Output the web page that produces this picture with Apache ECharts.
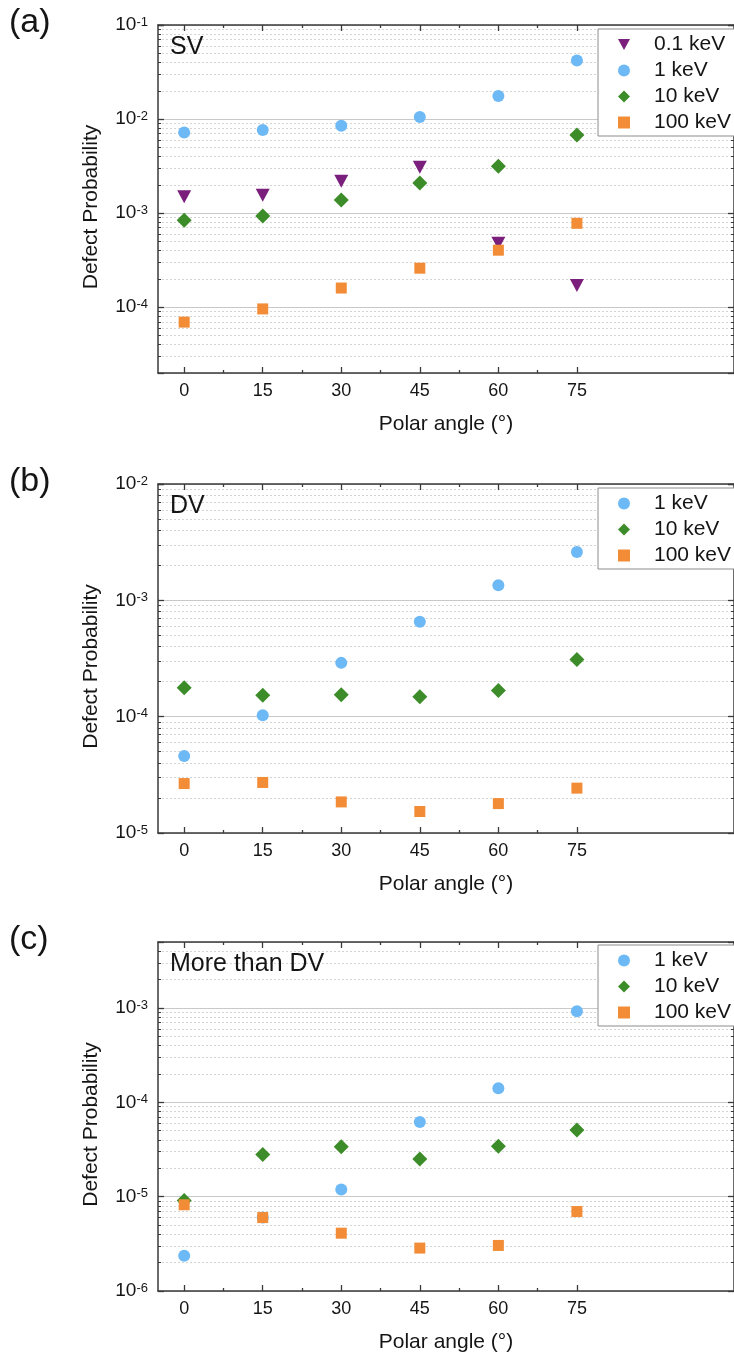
<!DOCTYPE html>
<html><head><meta charset="utf-8">
<script src="https://cdn.jsdelivr.net/npm/echarts@6/dist/echarts.min.js"></script>
<style>html,body{margin:0;padding:0;background:#fff}#c{width:734px;height:1359px}</style>
</head><body><div id="c"></div>
<script>
// ---------- data ----------
const angles = [0, 15, 30, 45, 60, 75];
const xTickLabels = [0, 15, 30, 45, 60, 75];
const xMinorTicks = [7.5, 22.5, 37.5, 52.5, 67.5];

// (a) SV
const sv_0p1keV = [1.49e-3, 1.55e-3, 2.18e-3, 3.08e-3, 4.8e-4, 1.7e-4];
const sv_1keV   = [7.2e-3, 7.65e-3, 8.5e-3, 1.05e-2, 1.76e-2, 4.2e-2];
const sv_10keV  = [8.4e-4, 9.35e-4, 1.38e-3, 2.09e-3, 3.16e-3, 6.78e-3];
const sv_100keV = [6.95e-5, 9.6e-5, 1.6e-4, 2.6e-4, 4.04e-4, 7.8e-4];

// (b) DV
const dv_1keV   = [4.6e-5, 1.03e-4, 2.9e-4, 6.55e-4, 1.35e-3, 2.6e-3];
const dv_10keV  = [1.77e-4, 1.53e-4, 1.54e-4, 1.48e-4, 1.68e-4, 3.1e-4];
const dv_100keV = [2.66e-5, 2.72e-5, 1.85e-5, 1.53e-5, 1.79e-5, 2.43e-5];

// (c) More than DV
const mdv_1keV   = [2.36e-6, 6.0e-6, 1.19e-5, 6.2e-5, 1.41e-4, 9.2e-4];
const mdv_10keV  = [9.1e-6, 2.8e-5, 3.37e-5, 2.5e-5, 3.43e-5, 5.1e-5];
const mdv_100keV = [8.2e-6, 6.0e-6, 4.1e-6, 2.85e-6, 3.04e-6, 6.95e-6];

const yRangeA = [2e-5, 1e-1];
const yRangeB = [1e-5, 1e-2];
const yRangeC = [1e-6, 5e-3];

// ---------- styling ----------
const FONT = 'Liberation Sans, Arial, sans-serif';
const TXT = '#151515';
const AXC = '#3a3a3a';
const styles = {
  '0.1 keV': {symbol: 'path://M0,0 L14,0 L7,13 Z', symbolSize: [14, 13], color: '#7A1F7C'},
  '1 keV':   {symbol: 'circle', symbolSize: 12, color: '#6DB9F6'},
  '10 keV':  {symbol: 'diamond', symbolSize: 15, color: '#3C8C2A'},
  '100 keV': {symbol: 'rect', symbolSize: 11, color: '#F28C36'}
};

const panels = [
  {tag: '(a)', title: 'SV', top: 25, height: 348, range: yRangeA, legendTop: 29,
   series: [['0.1 keV', sv_0p1keV], ['1 keV', sv_1keV], ['10 keV', sv_10keV], ['100 keV', sv_100keV]]},
  {tag: '(b)', title: 'DV', top: 484, height: 349, range: yRangeB, legendTop: 488,
   series: [['1 keV', dv_1keV], ['10 keV', dv_10keV], ['100 keV', dv_100keV]]},
  {tag: '(c)', title: 'More than DV', top: 942, height: 349, range: yRangeC, legendTop: 945,
   series: [['1 keV', mdv_1keV], ['10 keV', mdv_10keV], ['100 keV', mdv_100keV]]}
];

function supFmt(v) {
  const e = Math.log10(v);
  const r = Math.round(e);
  if (Math.abs(e - r) > 1e-6) return '';
  return '{b|10}{s|' + r + '}';
}

const grid = [], xAxis = [], yAxis = [], series = [], legend = [], graphic = [];
const axisLine = {show: true, onZero: false, lineStyle: {color: AXC, width: 1.5}};

panels.forEach((p, i) => {
  grid.push({left: 158, top: p.top, width: 579, height: p.height});
  const xBase = {gridIndex: i, type: 'value', min: -5, max: 105, splitLine: {show: false}, minorTick: {show: false}};
  xAxis.push(Object.assign({}, xBase, {
    position: 'bottom', axisLine,
    axisTick: {show: true, inside: true, length: 6, customValues: xTickLabels, lineStyle: {color: AXC, width: 1.3}},
    axisLabel: {show: true, customValues: xTickLabels, margin: 9, fontSize: 18, fontFamily: FONT, color: TXT},
    name: 'Polar angle (°)', nameLocation: 'middle', nameGap: 41,
    nameTextStyle: {fontSize: 21, fontFamily: FONT, color: TXT}
  }));
  xAxis.push(Object.assign({}, xBase, {
    position: 'bottom', axisLine: {show: false},
    axisTick: {show: true, inside: true, length: 3, customValues: xMinorTicks, lineStyle: {color: AXC, width: 1.3}},
    axisLabel: {show: false}
  }));
  xAxis.push(Object.assign({}, xBase, {
    position: 'top', axisLine,
    axisTick: {show: true, inside: true, length: 6, customValues: xTickLabels, lineStyle: {color: AXC, width: 1.3}},
    axisLabel: {show: false}
  }));
  xAxis.push(Object.assign({}, xBase, {
    position: 'top', axisLine: {show: false},
    axisTick: {show: true, inside: true, length: 3, customValues: xMinorTicks, lineStyle: {color: AXC, width: 1.3}},
    axisLabel: {show: false}
  }));

  const yBase = {gridIndex: i, type: 'log', logBase: 10, min: p.range[0], max: p.range[1]};
  const yLeftIndex = yAxis.length;
  yAxis.push(Object.assign({}, yBase, {
    position: 'left', axisLine,
    axisTick: {show: true, inside: true, length: 6, lineStyle: {color: AXC, width: 1.3}},
    minorTick: {show: true, splitNumber: 9, length: 3, lineStyle: {color: AXC, width: 1}},
    axisLabel: {show: true, margin: 10, formatter: supFmt,
      rich: {
        b: {fontSize: 19, fontFamily: FONT, color: TXT, lineHeight: 19, verticalAlign: 'bottom'},
        s: {fontSize: 13, fontFamily: FONT, color: TXT, lineHeight: 13, verticalAlign: 'top', padding: [0, 0, 10, 0]}
      }},
    splitLine: {show: true, lineStyle: {color: '#c9c9c9', width: 1.2}},
    minorSplitLine: {show: true, lineStyle: {color: '#d4d4d4', width: 1, type: [2, 2]}},
    name: 'Defect Probability', nameLocation: 'middle', nameGap: 56, nameRotate: 90,
    nameTextStyle: {fontSize: 21, fontFamily: FONT, color: TXT, padding: [0, 16, 0, 0]}
  }));
  yAxis.push(Object.assign({}, yBase, {
    position: 'right', axisLine,
    axisTick: {show: true, inside: true, length: 6, lineStyle: {color: AXC, width: 1.3}},
    minorTick: {show: true, splitNumber: 9, length: 3, lineStyle: {color: AXC, width: 1}},
    axisLabel: {show: false},
    splitLine: {show: false}, minorSplitLine: {show: false}
  }));

  p.series.forEach(([name, vals]) => {
    const st = styles[name];
    series.push({
      type: 'scatter', name,
      xAxisIndex: i * 4, yAxisIndex: yLeftIndex,
      symbol: st.symbol, symbolSize: st.symbolSize,
      itemStyle: {color: st.color, opacity: 1},
      data: angles.map((a, k) => [a, vals[k]]),
      z: 3
    });
  });

  legend.push({
    orient: 'vertical', left: 598, top: p.legendTop,
    padding: [5, 8, 3, 20], itemWidth: 12, itemHeight: 12, itemGap: 5,
    backgroundColor: '#fff', borderColor: '#8c8c8c', borderWidth: 1, borderRadius: 0,
    textStyle: {fontSize: 21, lineHeight: 21, fontFamily: FONT, color: TXT, padding: [0, 0, 0, 19]},
    data: p.series.map(s => s[0]),
    selectedMode: false
  });

  graphic.push({type: 'text', x: 9, y: p.top - 2, z: 10,
    style: {text: p.tag, font: '34px ' + FONT, fill: TXT, textAlign: 'left', textVerticalAlign: 'middle'}});
  graphic.push({type: 'text', x: 170, y: p.top + 22, z: 10,
    style: {text: p.title, font: '25px ' + FONT, fill: TXT, textAlign: 'left', textVerticalAlign: 'middle'}});
});

const chart = echarts.init(document.getElementById('c'), null, {renderer: 'canvas'});
chart.setOption({
  animation: false,
  backgroundColor: '#ffffff',
  textStyle: {fontFamily: FONT},
  grid, xAxis, yAxis, series, legend, graphic
});
</script>
</body></html>
